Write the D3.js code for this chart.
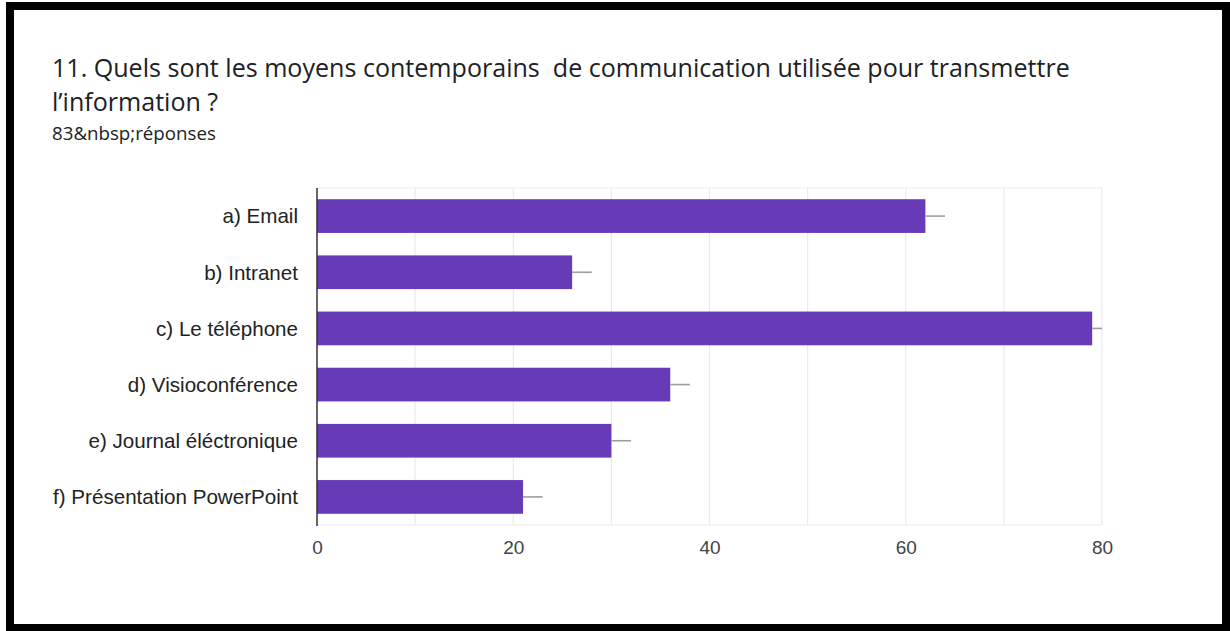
<!DOCTYPE html>
<html>
<head>
<meta charset="utf-8">
<script src="https://cdn.jsdelivr.net/npm/d3@7"></script>
<style>
  html, body { margin: 0; padding: 0; background: #fff; }
  svg { display: block; }
</style>
</head>
<body>
<svg id="chart" width="1230" height="631"></svg>
<script>
// Survey question 11: contemporary communication channels (83 responses)
const categories = [
  "a) Email",
  "b) Intranet",
  "c) Le téléphone",
  "d) Visioconférence",
  "e) Journal éléctronique",
  "f) Présentation PowerPoint"
];
const counts = [62, 26, 79, 36, 30, 21];
const tickValues = [0, 20, 40, 60, 80];
const gridValues = [10, 20, 30, 40, 50, 60, 70, 80];
const titleLines = [
  "11. Quels sont les moyens contemporains  de communication utilisée pour transmettre",
  "l’information ?"
];
const subtitle = "83&nbsp;réponses";
const whiskerLength = 2; // small grey whisker drawn past each bar end

const W = 1230, H = 631;
const svg = d3.select("#chart");

// framed card
svg.append("rect").attr("x", 6).attr("y", 2).attr("width", W - 6).attr("height", H - 2).attr("fill", "#000");
svg.append("rect").attr("x", 14).attr("y", 10).attr("width", 1208).attr("height", 614).attr("fill", "#fff");

// shrink/grow a text node's font so its first line spans the wanted width
function fitFont(sel, node, wanted) {
  const size = +sel.attr("font-size");
  const len = node.getComputedTextLength();
  if (len > 0) sel.attr("font-size", (size * wanted / len).toFixed(2));
}

// heading
const title = svg.append("text")
  .attr("x", 52)
  .attr("font-family", "'Open Sans', Roboto, sans-serif")
  .attr("font-size", 24)
  .attr("fill", "#202124")
  .style("white-space", "pre");
const firstLine = title.append("tspan").attr("x", 52).attr("y", 77).text(titleLines[0]);
title.append("tspan").attr("x", 52).attr("y", 111).text(titleLines[1]);
fitFont(title, firstLine.node(), 1018);

const sub = svg.append("text")
  .attr("x", 52).attr("y", 140)
  .attr("font-family", "'Open Sans', Roboto, sans-serif")
  .attr("font-size", 17)
  .attr("fill", "#202124")
  .text(subtitle);
fitFont(sub, sub.node(), 164);

// plot area
const plot = { left: 317, right: 1102, top: 188, bottom: 525 };

const x = d3.scaleLinear().domain([0, 80]).range([plot.left, plot.right]);
const y = d3.scaleBand().domain(categories).range([plot.top, plot.bottom])
  .paddingInner(0.4).paddingOuter(0.2);

// grid
const g = svg.append("g");
g.selectAll("line.grid").data(gridValues).join("line")
  .attr("class", "grid")
  .attr("x1", d => x(d)).attr("x2", d => x(d))
  .attr("y1", plot.top).attr("y2", plot.bottom)
  .attr("stroke", "#ebebeb").attr("stroke-width", 1.2);
g.append("line")
  .attr("x1", plot.left).attr("x2", plot.right)
  .attr("y1", plot.top).attr("y2", plot.top)
  .attr("stroke", "#ebebeb").attr("stroke-width", 1.2);
g.append("line")
  .attr("x1", plot.left).attr("x2", plot.right)
  .attr("y1", plot.bottom).attr("y2", plot.bottom)
  .attr("stroke", "#ebebeb").attr("stroke-width", 1.2);

// bars
const rows = categories.map((c, i) => ({ cat: c, v: counts[i] }));
g.selectAll("rect.bar").data(rows).join("rect")
  .attr("class", "bar")
  .attr("x", x(0))
  .attr("y", d => y(d.cat))
  .attr("width", d => x(d.v) - x(0))
  .attr("height", y.bandwidth())
  .attr("fill", "#673ab7");

// whiskers
g.selectAll("line.whisker").data(rows).join("line")
  .attr("class", "whisker")
  .attr("x1", d => x(d.v))
  .attr("x2", d => x(Math.min(80, d.v + whiskerLength)))
  .attr("y1", d => y(d.cat) + y.bandwidth() / 2)
  .attr("y2", d => y(d.cat) + y.bandwidth() / 2)
  .attr("stroke", "#9e9e9e").attr("stroke-width", 1.6);

// category labels
g.selectAll("text.cat").data(categories).join("text")
  .attr("class", "cat")
  .attr("x", plot.left - 19)
  .attr("y", d => y(d) + y.bandwidth() / 2)
  .attr("dy", "0.36em")
  .attr("text-anchor", "end")
  .attr("font-family", "'Liberation Sans', Arial, sans-serif")
  .attr("font-size", 20.6)
  .attr("fill", "#222")
  .text(d => d);

// x axis tick labels
const xAxis = d3.axisBottom(x).tickValues(tickValues).tickSize(0).tickPadding(0);
const ax = svg.append("g").attr("transform", `translate(0,${plot.bottom})`).call(xAxis);
ax.select(".domain").remove();
ax.selectAll("text")
  .attr("dy", null)
  .attr("y", 29)
  .attr("font-family", "'Liberation Sans', Arial, sans-serif")
  .attr("font-size", 19)
  .attr("fill", "#444");

// baseline axis
svg.append("line")
  .attr("x1", x(0)).attr("x2", x(0))
  .attr("y1", plot.top).attr("y2", plot.bottom + 1)
  .attr("stroke", "#333").attr("stroke-width", 1.5);
</script>
</body>
</html>
